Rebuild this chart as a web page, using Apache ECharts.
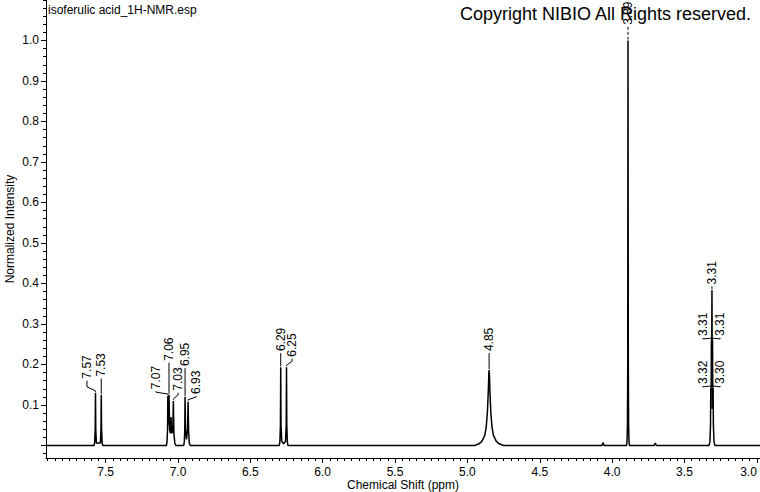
<!DOCTYPE html>
<html>
<head>
<meta charset="utf-8">
<script src="https://cdn.jsdelivr.net/npm/echarts@6/dist/echarts.min.js"></script>
<style>
html,body{margin:0;padding:0;background:#fff;}
#chart{width:760px;height:492px;}
</style>
</head>
<body>
<div id="chart"></div>
<script>
// ---- data ----
const fileTitle = 'isoferulic acid_1H-NMR.esp';
const copyrightText = 'Copyright NIBIO All Rights reserved.';
const xAxisTitle = 'Chemical Shift (ppm)';
const yAxisTitle = 'Normalized Intensity';

const xTickLabels = [3.0, 3.5, 4.0, 4.5, 5.0, 5.5, 6.0, 6.5, 7.0, 7.5];
const yTickLabels = [0.1, 0.2, 0.3, 0.4, 0.5, 0.6, 0.7, 0.8, 0.9, 1.0];

// spectrum trace: [ppm, normalized intensity]
const spectrum = [
  [7.912, 0.0],
  [7.58, 0.0], [7.576, 0.006], [7.572, 0.04], [7.570, 0.13], [7.568, 0.04], [7.564, 0.006],
  [7.536, 0.006], [7.532, 0.04], [7.530, 0.125], [7.528, 0.04], [7.524, 0.006], [7.52, 0.0],
  [7.08, 0.0], [7.076, 0.008], [7.072, 0.04], [7.070, 0.122], [7.067, 0.05], [7.062, 0.125],
  [7.058, 0.04], [7.052, 0.03], [7.048, 0.07], [7.044, 0.03], [7.036, 0.035], [7.032, 0.11],
  [7.028, 0.03], [7.022, 0.006], [7.015, 0.0],
  [6.96, 0.0], [6.956, 0.01], [6.953, 0.04], [6.951, 0.12], [6.948, 0.04], [6.941, 0.015],
  [6.934, 0.04], [6.930, 0.108], [6.927, 0.04], [6.922, 0.006], [6.915, 0.0],
  [6.30, 0.0], [6.296, 0.008], [6.292, 0.05], [6.290, 0.193], [6.288, 0.05], [6.283, 0.01],
  [6.27, 0.004], [6.257, 0.01], [6.252, 0.05], [6.250, 0.193], [6.248, 0.05], [6.244, 0.008], [6.24, 0.0],
  [4.95, 0.0], [4.92, 0.004], [4.90, 0.01], [4.88, 0.025], [4.87, 0.045], [4.862, 0.08],
  [4.856, 0.13], [4.852, 0.175], [4.850, 0.186], [4.848, 0.175], [4.844, 0.13], [4.838, 0.08],
  [4.83, 0.045], [4.82, 0.025], [4.80, 0.01], [4.78, 0.004], [4.75, 0.0],
  [4.07, 0.0], [4.062, 0.007], [4.056, 0.0],
  [3.90, 0.0], [3.897, 0.01], [3.894, 0.05], [3.892, 0.2], [3.890, 1.0], [3.888, 0.2],
  [3.886, 0.05], [3.883, 0.01], [3.88, 0.0],
  [3.71, 0.0], [3.702, 0.006], [3.694, 0.0],
  [3.33, 0.0], [3.324, 0.01], [3.320, 0.05], [3.318, 0.142], [3.316, 0.09], [3.314, 0.26],
  [3.312, 0.2], [3.310, 0.384], [3.308, 0.2], [3.306, 0.26], [3.304, 0.09], [3.302, 0.142],
  [3.300, 0.05], [3.296, 0.01], [3.29, 0.0],
  [2.978, 0.0]
];

// peak annotations
const peakLabels  = ['7.57', '7.53', '7.07', '7.06', '7.03', '6.95', '6.93', '6.29', '6.25', '4.85', '3.89', '3.31', '3.31', '3.31', '3.32', '3.30'];
const peakShifts  = [7.570, 7.530, 7.070, 7.062, 7.032, 6.951, 6.930, 6.290, 6.250, 4.850, 3.890, 3.310, 3.314, 3.306, 3.318, 3.302];
const peakHeights = [0.13, 0.125, 0.122, 0.125, 0.11, 0.12, 0.108, 0.193, 0.193, 0.186, 1.0, 0.384, 0.26, 0.26, 0.142, 0.142];
// where each label text begins (ppm, intensity)
const labelShifts = [7.629, 7.530, 7.152, 7.062, 6.999, 6.951, 6.875, 6.290, 6.212, 4.850, 3.890, 3.310, 3.372, 3.254, 3.372, 3.254];
const labelLevels = [0.165, 0.17, 0.139, 0.209, 0.135, 0.196, 0.127, 0.233, 0.219, 0.233, 1.0387, 0.3977, 0.2705, 0.2705, 0.152, 0.152];

// ---- chart ----
const FONT = '"Liberation Sans", Arial, sans-serif';
const X_MIN = 2.978, X_MAX = 7.912, Y_MIN = -0.031, Y_MAX = 1.10;

const xMinor = [];
for (let i = 60; i <= 158; i++) xMinor.push(+(i * 0.05).toFixed(2));
const yMajor = [0].concat(yTickLabels);
const yMinor = [];
for (let i = -1; i <= 55; i++) yMinor.push(+(i * 0.02).toFixed(2));

const labelData = peakLabels.map((t, i) => [peakShifts[i], peakHeights[i], labelShifts[i], labelLevels[i]]);

const chart = echarts.init(document.getElementById('chart'), null, {renderer: 'svg'});
chart.setOption({
  animation: false,
  backgroundColor: '#fff',
  title: [
    {text: fileTitle, left: 43, top: -1, textStyle: {fontFamily: FONT, fontSize: 12, fontWeight: 'normal', color: '#000'}},
    {text: copyrightText, right: 3, top: 0, textStyle: {fontFamily: FONT, fontSize: 18, fontWeight: 'normal', color: '#000'}}
  ],
  grid: {left: 46, right: 0, top: 0, bottom: 34, containLabel: false, outerBoundsMode: 'none'},
  xAxis: [
    {
      type: 'value', min: X_MIN, max: X_MAX, inverse: true, position: 'bottom',
      name: xAxisTitle, nameLocation: 'middle', nameGap: 21, nameMoveOverlap: false,
      nameTextStyle: {fontFamily: FONT, fontSize: 12, color: '#000', verticalAlign: 'top'},
      axisLine: {show: true, onZero: false, lineStyle: {color: '#000', width: 1}},
      axisTick: {show: true, inside: false, length: 5, customValues: xTickLabels, lineStyle: {color: '#000'}},
      axisLabel: {show: true, customValues: xTickLabels, margin: 8, fontFamily: FONT, fontSize: 12, color: '#000',
                  hideOverlap: false, alignMinLabel: 'right', formatter: v => v.toFixed(1)},
      splitLine: {show: false}
    },
    {
      type: 'value', min: X_MIN, max: X_MAX, inverse: true, position: 'bottom',
      axisLine: {show: false, onZero: false},
      axisTick: {show: true, inside: false, length: 3, customValues: xMinor, lineStyle: {color: '#000'}},
      axisLabel: {show: false},
      splitLine: {show: false}
    }
  ],
  yAxis: [
    {
      type: 'value', min: Y_MIN, max: Y_MAX, position: 'left',
      name: yAxisTitle, nameLocation: 'middle', nameGap: 30, nameMoveOverlap: false,
      nameTextStyle: {fontFamily: FONT, fontSize: 12, color: '#000'},
      axisLine: {show: true, onZero: false, lineStyle: {color: '#000', width: 1}},
      axisTick: {show: true, inside: false, length: 5, customValues: yMajor, lineStyle: {color: '#000'}},
      axisLabel: {show: true, customValues: yTickLabels, margin: 7, fontFamily: FONT, fontSize: 12, color: '#000',
                  formatter: v => v.toFixed(1)},
      splitLine: {show: false}
    },
    {
      type: 'value', min: Y_MIN, max: Y_MAX, position: 'left',
      axisLine: {show: false, onZero: false},
      axisTick: {show: true, inside: false, length: 3, customValues: yMinor, lineStyle: {color: '#000'}},
      axisLabel: {show: false},
      splitLine: {show: false}
    }
  ],
  series: [
    {
      type: 'line', xAxisIndex: 0, yAxisIndex: 0, data: spectrum,
      showSymbol: false, symbol: 'none', smooth: false,
      lineStyle: {color: '#000', width: 1.5}, silent: true
    },
    {
      type: 'custom', xAxisIndex: 0, yAxisIndex: 0, clip: false, silent: true,
      data: labelData,
      encode: {x: [0, 2], y: [1, 3]},
      renderItem: function (params, api) {
        const i = params.dataIndex;
        const p = api.coord([api.value(0), api.value(1)]);
        const l = api.coord([api.value(2), api.value(3)]);
        const px = p[0], py = p[1], lx = l[0], ly = l[1];
        let pts;
        if (Math.abs(lx - px) < 0.8) {
          pts = [[px, ly + 2], [px, py - 1]];
        } else {
          pts = [[lx, ly + 2], [lx, Math.max(ly + 3, py - 6)], [px, py - 2], [px, py - 1]];
        }
        const dashed = peakLabels[i] === '3.89';
        return {
          type: 'group',
          children: [
            {type: 'polyline', shape: {points: pts},
             style: {stroke: '#000', lineWidth: 1, fill: null, lineDash: dashed ? [3, 2] : null}},
            {type: 'text', x: lx, y: ly, rotation: Math.PI / 2,
             style: {text: peakLabels[i], fill: '#000', font: '12px ' + FONT, align: 'left', verticalAlign: 'middle'}}
          ]
        };
      }
    }
  ]
});
</script>
</body>
</html>
